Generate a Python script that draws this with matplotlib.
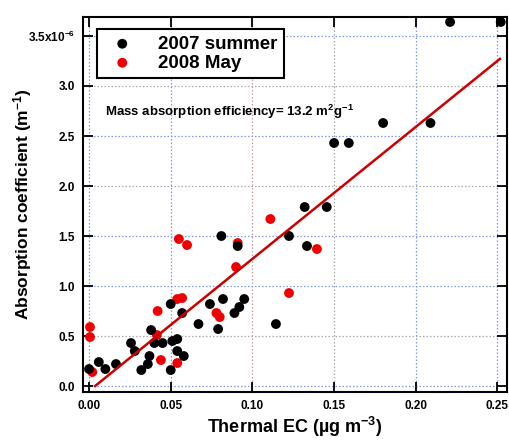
import numpy as np
import matplotlib
matplotlib.use("Agg")
import matplotlib.pyplot as plt

plt.rcParams['font.family'] = ['Liberation Sans', 'DejaVu Sans']
plt.rcParams['font.weight'] = 'bold'
plt.rcParams['mathtext.fontset'] = 'custom'
plt.rcParams['mathtext.rm'] = 'Liberation Sans:bold'
plt.rcParams['mathtext.it'] = 'Liberation Sans:bold'
plt.rcParams['mathtext.bf'] = 'Liberation Sans:bold'
plt.rcParams['mathtext.default'] = 'rm'

# 2007 summer (EC in ug m-3, absorption in 1e-6 m-1)
ec_2007 = [0.000, 0.006, 0.010, 0.0165, 0.0257, 0.028, 0.032, 0.036, 0.037, 0.038,
           0.040, 0.045, 0.050, 0.050, 0.051, 0.054, 0.054, 0.057, 0.058, 0.067,
           0.074, 0.079, 0.082, 0.081, 0.089, 0.091, 0.092, 0.095, 0.1224, 0.1334,
           0.1144, 0.221, 0.252, 0.180, 0.209, 0.150, 0.159, 0.132, 0.1455]
abs_2007 = [0.17, 0.24, 0.17, 0.22, 0.43, 0.35, 0.16, 0.22, 0.30, 0.56,
            0.43, 0.43, 0.82, 0.16, 0.45, 0.47, 0.35, 0.73, 0.30, 0.62,
            0.82, 0.57, 0.87, 1.50, 0.73, 1.40, 0.79, 0.87, 1.50, 1.40,
            0.62, 3.64, 3.64, 2.63, 2.63, 2.43, 2.43, 1.79, 1.79]

# 2008 May
ec_2008 = [0.0006, 0.0006, 0.002, 0.042, 0.0415, 0.044, 0.055, 0.060, 0.054, 0.057,
           0.054, 0.078, 0.080, 0.091, 0.090, 0.111, 0.1395, 0.1224]
abs_2008 = [0.59, 0.49, 0.14, 0.75, 0.51, 0.26, 1.47, 1.41, 0.87, 0.88,
            0.23, 0.73, 0.69, 1.43, 1.19, 1.67, 1.37, 0.93]

# linear fit, slope 13.2 m2 g-1
fit_x = [0.0037, 0.2515]
slope = 13.2
fit_y = [slope * (v - 0.0037) for v in fit_x]

x_ticks = [0.00, 0.05, 0.10, 0.15, 0.20, 0.25]
x_labels = ['0.00', '0.05', '0.10', '0.15', '0.20', '0.25']
y_ticks = [0.0, 0.5, 1.0, 1.5, 2.0, 2.5, 3.0, 3.5]
y_labels = ['0.0', '0.5', '1.0', '1.5', '2.0', '2.5', '3.0', '3.5x10$^{-6}$']

fig = plt.figure(figsize=(5.1, 4.4), dpi=100)
ax = fig.add_axes([0.1627, 0.109, 0.8313, 0.8524])

# dotted grid, colours as in the original
xgrid_col = ['#7f9bef', '#7f9bef', '#c99a9a', '#aaaaaa', '#7f9bef', '#7f9bef']
ygrid_col = ['#7f9bef', '#aaaaaa', '#7f9bef', '#7f9bef', '#aaaaaa', '#7f9bef', '#aaaaaa', '#7f9bef']
for xv, c in zip(x_ticks, xgrid_col):
    ax.axvline(xv, color=c, lw=0.9, ls=(0, (1.2, 1.6)), zorder=0)
for yv, c in zip(y_ticks, ygrid_col):
    ax.axhline(yv, color=c, lw=0.9, ls=(0, (1.2, 1.6)), zorder=0)

ax.scatter(ec_2008, abs_2008, s=50, color='#f00000', edgecolors='none', zorder=2, label='2008 May')
ax.scatter(ec_2007, abs_2007, s=50, color='black', edgecolors='none', zorder=3, label='2007 summer')
ax.plot(fit_x, fit_y, color='#cc0000', lw=1.8, zorder=4)

ax.set_xlim(-0.0037, 0.2558)
ax.set_ylim(-0.06, 3.69)
ax.set_xticks(x_ticks)
ax.set_xticklabels(x_labels)
ax.set_yticks(y_ticks)
ax.set_yticklabels(y_labels)
ax.tick_params(direction='in', length=7, width=1.3, top=True, right=True,
               labelsize=8.5, pad=6)
for lab in ax.get_xticklabels() + ax.get_yticklabels():
    lab.set_fontweight('bold')
for sp in ax.spines.values():
    sp.set_linewidth(1.5)

ax.set_xlabel('Thermal EC (\u00b5g m$^{-3}$)', fontsize=13, fontweight='bold')
ax.set_ylabel('Absorption coefficient (m$^{-1}$)', fontsize=12.5, fontweight='bold')
ax.xaxis.set_label_coords(0.5, -0.06)
ax.yaxis.set_label_coords(-0.115, 0.5)

ax.text(0.052, 0.735, 'Mass absorption efficiency= 13.2 m$^{2}$g$^{-1}$',
        transform=ax.transAxes, fontsize=9.5, fontweight='bold')

h, l = ax.get_legend_handles_labels()
leg = ax.legend(h[::-1], l[::-1], loc='upper left', bbox_to_anchor=(0.033, 0.968),
                borderaxespad=0, fancybox=False, framealpha=1, edgecolor='black',
                prop={'size': 13.5, 'weight': 'bold'}, handletextpad=0.9,
                borderpad=0.35, labelspacing=0.1, markerscale=1.0)
leg.get_frame().set_linewidth(1.5)

fig.savefig('out.png', dpi=100)
